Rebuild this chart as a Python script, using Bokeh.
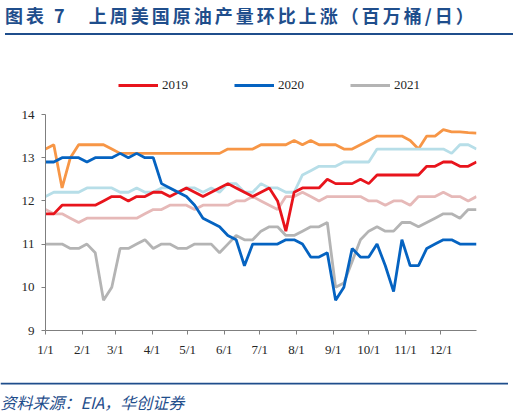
from bokeh.embed import file_html
from bokeh.resources import INLINE
from bokeh.layouts import column
from bokeh.models import (ColumnDataSource, FixedTicker, Legend, LegendItem,
                          Range1d, Div, Label, Span)
from bokeh.plotting import figure

# ─── data (weekly, million barrels / day) ──────────────────────────────────
weeks = list(range(53))
month_days = [0, 31, 59, 90, 120, 151, 181, 212, 243, 273, 304, 334]
month_labels = ["1/1", "2/1", "3/1", "4/1", "5/1", "6/1",
                "7/1", "8/1", "9/1", "10/1", "11/1", "12/1"]
y_ticks = [9, 10, 11, 12, 13, 14]

orange = [13.2, 13.3, 12.3, 13.0, 13.3, 13.3, 13.3, 13.3, 13.2, 13.1,
          13.1, 13.1, 13.1, 13.1, 13.1, 13.1, 13.1, 13.1, 13.1, 13.1,
          13.1, 13.1, 13.2, 13.2, 13.2, 13.2, 13.3, 13.3, 13.3, 13.3,
          13.4, 13.3, 13.4, 13.3, 13.3, 13.3, 13.2, 13.2, 13.3, 13.4,
          13.5, 13.5, 13.5, 13.5, 13.4, 13.2, 13.5, 13.5, 13.65, 13.6,
          13.6, 13.58, 13.57]
light_blue = [12.1, 12.2, 12.2, 12.2, 12.2, 12.3, 12.3, 12.3, 12.3, 12.2,
              12.2, 12.3, 12.2, 12.2, 12.3, 12.3, 12.2, 12.3, 12.3, 12.2,
              12.3, 12.2, 12.4, 12.4, 12.2, 12.2, 12.4, 12.3, 12.3, 12.2,
              12.2, 12.6, 12.7, 12.8, 12.8, 12.8, 12.9, 12.9, 12.9, 12.9,
              13.2, 13.2, 13.2, 13.2, 13.2, 13.2, 13.2, 13.2, 13.2, 13.1,
              13.3, 13.3, 13.2]
pink = [11.8, 11.7, 11.7, 11.6, 11.5, 11.6, 11.6, 11.6, 11.6, 11.6,
        11.6, 11.6, 11.7, 11.8, 11.8, 11.9, 11.9, 11.9, 11.8, 11.9,
        11.9, 11.9, 11.9, 12.0, 12.0, 12.1, 12.0, 11.9, 11.8, 12.1,
        12.1, 12.2, 12.1, 12.0, 12.1, 12.1, 12.1, 12.1, 12.1, 12.0,
        12.0, 11.9, 12.0, 12.0, 11.9, 12.1, 12.1, 12.1, 12.2, 12.1,
        12.1, 12.0, 12.1]
y2021 = [11.0, 11.0, 11.0, 10.9, 10.9, 11.0, 10.8, 9.7, 10.0, 10.9,
         10.9, 11.0, 11.1, 10.9, 11.0, 11.0, 10.9, 10.9, 11.0, 11.0,
         11.0, 10.8, 11.0, 11.2, 11.1, 11.1, 11.3, 11.4, 11.4, 11.2,
         11.2, 11.3, 11.4, 11.4, 11.5, 10.0, 10.1, 10.6, 11.1, 11.3,
         11.4, 11.3, 11.3, 11.5, 11.5, 11.4, 11.5, 11.6, 11.7, 11.7,
         11.6, 11.8, 11.8]
y2019 = [11.7, 11.7, 11.9, 11.9, 11.9, 11.9, 11.9, 12.0, 12.1, 12.1,
         12.0, 12.1, 12.1, 12.2, 12.2, 12.1, 12.2, 12.3, 12.2, 12.1,
         12.2, 12.3, 12.4, 12.3, 12.2, 12.1, 12.2, 12.3, 12.0, 11.3,
         12.2, 12.3, 12.3, 12.3, 12.5, 12.4, 12.4, 12.4, 12.5, 12.4,
         12.6, 12.6, 12.6, 12.6, 12.6, 12.6, 12.8, 12.8, 12.9, 12.9,
         12.8, 12.8, 12.9]
y2020 = [12.9, 12.9, 13.0, 13.0, 13.0, 12.9, 13.0, 13.0, 13.0, 13.1,
         13.0, 13.1, 13.0, 13.0, 12.4, 12.3, 12.2, 12.1, 11.9, 11.6,
         11.5, 11.4, 11.2, 11.1, 10.5, 11.0, 11.0, 11.0, 11.0, 11.1,
         11.1, 11.0, 10.7, 10.7, 10.8, 9.7, 10.0, 10.9, 10.7, 10.7,
         11.0, 10.5, 9.9, 11.1, 10.5, 10.5, 10.9, 11.0, 11.1, 11.1,
         11.0, 11.0, 11.0]

NAVY = "#1F4E8C"
SERIF = "Liberation Serif"
CJK = "Noto Sans CJK SC"

src = ColumnDataSource(dict(
    x=[w * 7 for w in weeks], orange=orange, light_blue=light_blue, pink=pink,
    y2019=y2019, y2020=y2020, y2021=y2021,
))

# frame runs from the legend row down to 9; the y axis itself stops at 14
FIG_H = 340
FRAME_TOP, FRAME_BOTTOM, PX_PER_UNIT = 27, 288, 43.2
y_top = 9 + (FRAME_BOTTOM - FRAME_TOP) / PX_PER_UNIT

p = figure(width=508, height=FIG_H, output_backend="svg", toolbar_location=None,
           x_range=Range1d(0, 364), y_range=Range1d(9, y_top),
           min_border_left=45, min_border_right=32,
           min_border_top=FRAME_TOP, min_border_bottom=FIG_H - FRAME_BOTTOM)
p.outline_line_color = None
p.grid.grid_line_color = None

# lines, back to front
lw = 2.8
p.line("x", "orange", source=src, color="#F79646", line_width=lw)
p.line("x", "light_blue", source=src, color="#B7DEE8", line_width=lw)
p.line("x", "pink", source=src, color="#E6B9B8", line_width=lw)
r21 = p.line("x", "y2021", source=src, color="#B4B4B4", line_width=lw)
r19 = p.line("x", "y2019", source=src, color="#E8141C", line_width=lw)
r20 = p.line("x", "y2020", source=src, color="#0563C1", line_width=lw)

# axes
for ax in (p.xaxis[0], p.yaxis[0]):
    ax.axis_line_color = "#7F7F7F"
    ax.major_tick_line_color = "#7F7F7F"
    ax.major_tick_in = 0
    ax.major_tick_out = 4
    ax.minor_tick_line_color = None
    ax.major_label_text_font = SERIF
    ax.major_label_text_font_size = "13px"
    ax.major_label_text_color = "#262626"
    ax.major_label_standoff = 7
p.xaxis.ticker = FixedTicker(ticks=month_days)
p.xaxis.major_label_overrides = dict(zip(month_days, month_labels))
p.yaxis.ticker = FixedTicker(ticks=y_ticks)
p.yaxis.bounds = (y_ticks[0], y_ticks[-1])

# legend row at the top of the frame (location = legend's bottom-left)
legend = Legend(items=[LegendItem(label="2019", renderers=[r19]),
                       LegendItem(label="2020", renderers=[r20]),
                       LegendItem(label="2021", renderers=[r21])],
                orientation="horizontal", location=(73, FRAME_BOTTOM - 53),
                glyph_width=40, glyph_height=20, label_standoff=4, spacing=46,
                label_text_font=SERIF, label_text_font_size="13px",
                label_text_color="#262626",
                border_line_color=None, background_fill_alpha=0,
                padding=0, margin=0)
p.add_layout(legend)

# title with its rule
title = Div(width=508, height=32, text=(
    f'<div style="width:508px;height:30px;border-bottom:2px solid {NAVY};'
    f'font-family:\'{CJK}\';font-weight:bold;font-size:18px;line-height:20px;'
    f'letter-spacing:3px;color:{NAVY};white-space:nowrap;">'
    f'图表 7　上周美国原油产量环比上涨（百万桶/日）</div>'))

# source note: a bare strip whose frame is the whole canvas (pixel ranges)
SRC_H = 29
note = figure(width=508, height=SRC_H, output_backend="svg", toolbar_location=None,
              x_range=Range1d(0, 508), y_range=Range1d(0, SRC_H),
              min_border=0, x_axis_location=None, y_axis_location=None)
note.outline_line_color = None
note.grid.grid_line_color = None
# keep the strip's frame full width instead of lining it up with the chart
for fig in (p, note):
    if "frame_align" in fig.properties():
        fig.frame_align = False
note.add_layout(Span(location=SRC_H - 1, dimension="width",
                     line_color=NAVY, line_width=2))
note.add_layout(Label(x=0, y=10, text="资料来源：EIA，华创证券",
                      text_font=CJK, text_font_style="italic",
                      text_font_size="16px", text_color=NAVY,
                      text_baseline="middle"))

open("out.html", "w").write(file_html(column(title, p, note), INLINE))
